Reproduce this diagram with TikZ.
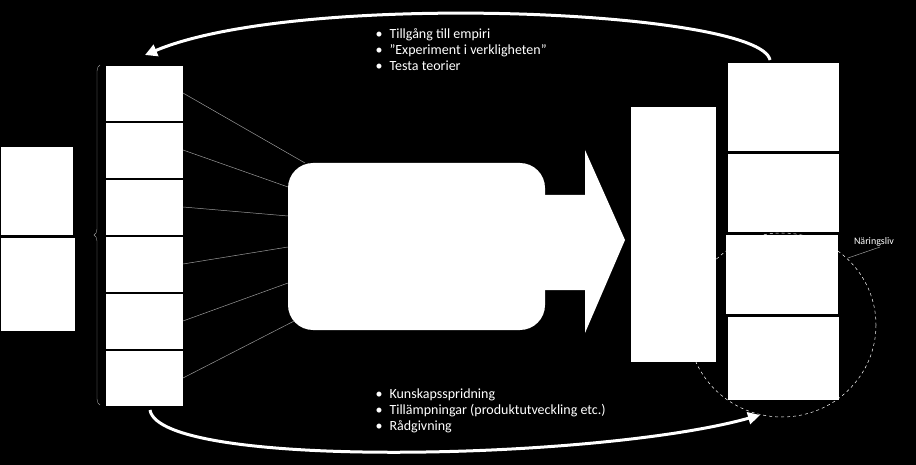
\documentclass[tikz,border=0pt]{standalone}
\usepackage{fontspec}
\setmainfont{Carlito}
\usetikzlibrary{calc,decorations.pathreplacing,arrows.meta}
\tikzset{box/.style={fill=white,draw=black,line width=0.6pt},
  link/.style={gray!80,line width=0.5pt},
  loopline/.style={white,line width=3pt,-{Triangle[length=12pt,width=12pt]}},
  txt/.style={white,font=\fontsize{14}{16}\selectfont,align=left,anchor=west}}
\begin{document}
\begin{tikzpicture}[x=1pt,y=-1pt]
    \fill[black] (0,0) rectangle (916,465);
    \useasboundingbox (0,0) rectangle (916,465);
    % left boxes
    \draw[box] (0,146) rectangle (73,235);
    \draw[box] (0,237) rectangle (75,331);
    \draw[gray!80,decorate,decoration={brace,amplitude=6pt,mirror}] (100,65)--(100,405);
    % column
    \foreach \i in {0,...,5}{
      \draw[box] (105,{65+\i*57}) rectangle (183,{121+\i*57});
      \coordinate (c\i) at (183,{93+\i*57});
    }
    \coordinate (r0) at (305,163);
    \coordinate (r1) at (288,187);
    \coordinate (r2) at (288,216);
    \coordinate (r3) at (288,247);
    \coordinate (r4) at (288,283);
    \coordinate (r5) at (300,318);
    \foreach \i in {0,...,5}{\draw[link] (c\i)--(r\i);}
    \fill[white,rounded corners=25pt] (288,163) rectangle (545,330);
    % big arrow
    \fill[white] (544,195)--(585,195)--(585,150)--(625,240)--(585,333)--(585,290)--(544,290)--cycle;
    \draw[box] (630,106) rectangle (716,362);
    % right column
    \draw[box] (727,62) rectangle (839,151);
    \draw[box] (727,153) rectangle (839,232);
    \draw[box] (725,234) rectangle (838,314);
    \draw[box] (727,316) rectangle (839,400);
    \draw[white,dashed,line width=0.5pt] (782,325) ellipse (94 and 92);
    \draw[gray!80,line width=0.5pt] (848,258)--(880,247);
    \node[white,font=\fontsize{10}{12}\selectfont] (nl) at (874,242) {Näringsliv};
    % curved arrows
    \draw[loopline] (770,60) .. controls (760,10) and (300,-10) .. (145,55);
    \draw[loopline] (150,410) .. controls (160,470) and (600,460) .. (760,415);
    \node[txt] (top) at (372,50) {\textbullet\enspace Tillgång till empiri\\\textbullet\enspace ”Experiment i verkligheten”\\\textbullet\enspace Testa teorier};
    \node[txt] (bot) at (372,411) {\textbullet\enspace Kunskapsspridning\\\textbullet\enspace Tillämpningar (produktutveckling etc.)\\\textbullet\enspace Rådgivning};
\end{tikzpicture}
\end{document}
